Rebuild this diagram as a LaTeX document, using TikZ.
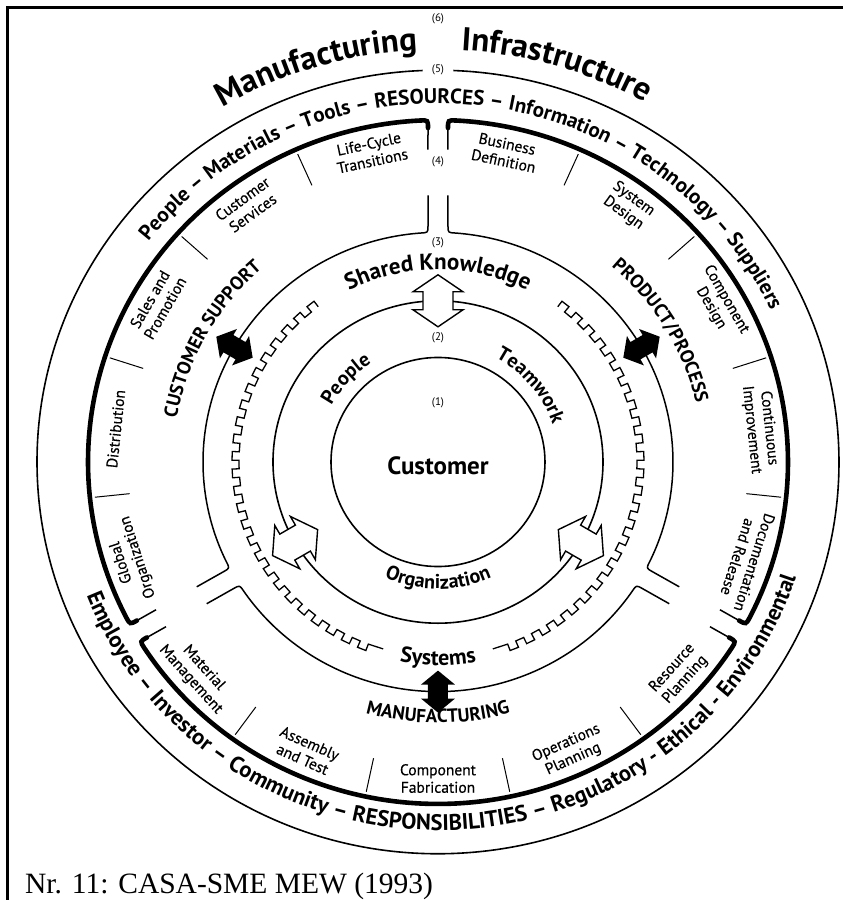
\documentclass[tikz,border=0pt]{standalone}
\usepackage{fontspec}
\setmainfont{PT Sans}
\newfontfamily\captionfont{Liberation Serif}
\newfontfamily\subfont[FakeBold=0.4]{PT Sans}
\usetikzlibrary{decorations.text}

\newcommand\fs[1]{\fontsize{#1}{#1}\selectfont}

\tikzset{
  ringline/.style={line width=1.6pt},
  wall/.style={line width=1.5pt, line join=round},
  rim/.style={line width=4.6pt, line cap=round},
  divider/.style={line width=1pt},
  gearline/.style={line width=1.3pt, line join=miter},
  frameline/.style={line width=3pt},
  tag/.style={font=\fs{11}, inner sep=1pt},
  sublabel/.style={font=\subfont\fontsize{15.5}{17.5}\selectfont, align=center, inner sep=0pt},
  arctext/.style 2 args={decorate, decoration={text along path, text align=center, text={|#1|#2}}},
  pics/hollow arrow/.style={code={
    \draw[line width=1.4pt, fill=white, line join=miter]
      (26,0) -- (9,25) -- (9,15) -- (-9,15) -- (-9,25) -- (-26,0)
      -- (-9,-25) -- (-9,-15) -- (9,-15) -- (9,-25) -- cycle;}},
  pics/solid arrow/.style={code={
    \fill[black] (21,0) -- (7,17) -- (7,10) -- (-7,10) -- (-7,17) -- (-21,0)
      -- (-7,-17) -- (-7,-10) -- (7,-10) -- (7,-17) -- cycle;}},
}

\begin{document}
\begin{tikzpicture}[x=1pt, y=1pt]
\useasboundingbox (-438,-438) rectangle (405,462);

% frame (top and left rules)
\draw[frameline] (-430,-440) -- (-430,454) -- (407,454);

\begin{scope}[yscale=0.977]
  % (1) customer core and (2) ring
  \draw[ringline] (0,0) circle[radius=107];
  \draw[ringline] (0,0) circle[radius=165];
  % (5) outer circle, open at the top for its tag
  \draw[ringline] (92.2:401) arc[start angle=92.2, end angle=447.8, radius=401];

  % the three process sectors, separated by open channels at 90, 210, 330 deg
  \foreach \sA in {90,210,330}{
    \pgfmathsetmacro\sB{\sA+120}
    \draw[wall] ({\sA+1.791}:320) -- ({\sA+1.676}:342)
      .. controls ({\sA+1.637}:350) .. ({\sA+2.947}:350)
      arc[start angle={\sA+2.947}, end angle={\sB-2.947}, radius=350]
      .. controls ({\sB-1.637}:350) .. ({\sB-1.676}:342) -- ({\sB-1.791}:320);
    \draw[rim] ({\sA+1.676}:342)
      .. controls ({\sA+1.637}:350) .. ({\sA+2.947}:350)
      arc[start angle={\sA+2.947}, end angle={\sB-2.947}, radius=350]
      .. controls ({\sB-1.637}:350) .. ({\sB-1.676}:342);
    \draw[wall] ({\sA+2.099}:273) -- ({\sA+2.368}:242)
      .. controls ({\sA+2.439}:235) .. ({\sA+4.146}:235)
      arc[start angle={\sA+4.146}, end angle={\sB-4.146}, radius=235]
      .. controls ({\sB-2.439}:235) .. ({\sB-2.368}:242) -- ({\sB-2.099}:273);
  }

  % sub-section dividers
  \foreach \d in {114,138,162,186,66,42,18,-6,234,258,282,306}
    \draw[divider] (\d:310) -- (\d:345);

  % toothed "systems" bands
  \draw[gearline] (127:199) foreach \a in {127,132,...,247}
    { -- (\a:199) -- (\a:206) -- ({\a+2.5}:206) -- ({\a+2.5}:199) } -- (254:199);
  \draw[gearline] (53:199) foreach \a in {53,48,...,-67}
    { -- (\a:199) -- (\a:206) -- ({\a-2.5}:206) -- ({\a-2.5}:199) } -- (-74:199);

  % two-way arrows
  \foreach \t in {90,210,330}
    \pic[rotate=\t] at (\t:165) {hollow arrow};
  \foreach \t in {30,150,270}
    \pic[rotate=\t] at (\t:235) {solid arrow};

  % ring tags
  \node[tag] (tag1) at (90:61) {(1)};
  \node[tag] (tag2) at (90:127) {(2)};
  \node[tag] (tag3) at (90:224) {(3)};
  \node[tag] (tag4) at (90:307) {(4)};
  \node[tag] (tag5) at (90:401) {(5)};
  \node[tag] (tag6) at (90:454) {(6)};

  % centre
  \node[font=\bfseries\fs{25}, inner sep=0pt] (customer) at (0,-4) {Customer};

  % ring 2
  \path[arctext={\bfseries\fs{20}}{People}] (160:121) arc[start angle=160, end angle=115, radius=121];
  \path[arctext={\bfseries\fs{20}}{Teamwork}] (68:121) arc[start angle=68, end angle=12, radius=121];
  \path[arctext={\bfseries\fs{20}}{Organization}] (225:130) arc[start angle=225, end angle=315, radius=130];

  % ring 3
  \path[arctext={\bfseries\fs{23}}{Shared Knowledge}] (130:197) arc[start angle=130, end angle=50, radius=197];
  \path[arctext={\bfseries\fs{22}}{Systems}] (245:208) arc[start angle=245, end angle=295, radius=208];

  % sector titles
  \path[arctext={\bfseries\fs{19}}{CUSTOMER SUPPORT}] (181:265) arc[start angle=181, end angle=121, radius=265];
  \path[arctext={\bfseries\fs{19}}{PRODUCT/PROCESS}] (61:265) arc[start angle=61, end angle=1, radius=265];
  \path[arctext={\bfseries\fs{19}}{MANUFACTURING}] (235:267) arc[start angle=235, end angle=305, radius=267];

  % sub-sections, upper half (read with tops outward)
  \foreach \ang/\txt in {102/{Life-Cycle\\Transitions},126/{Customer\\Services},
      150/{Sales and\\Promotion},174/{Distribution},198/{Global\\Organization},
      78/{Business\\Definition},54/{System\\Design},30/{Component\\Design},
      6/{Continuous\\Improvement},-18/{Documentation\\and Release}}
    \node[sublabel, rotate=\ang-90] (sub\ang) at (\ang:324) {\txt};
  % sub-sections, manufacturing (read with tops inward)
  \foreach \ang/\txt in {222/{Material\\Management},246/{Assembly\\and Test},
      270/{Component\\Fabrication},294/{Operations\\Planning},318/{Resource\\Planning}}
    \node[sublabel, rotate=\ang+90] (sub\ang) at (\ang:324) {\txt};

  % ring 5
  \path[arctext={\bfseries\fs{21}}{People – Materials – Tools – RESOURCES – Information – Technology – Suppliers}]
    (158.5:367) arc[start angle=158.5, end angle=8.5, radius=367];
  \path[arctext={\bfseries\fs{22.5}}{Employee – Investor – Community – RESPONSIBILITIES – Regulatory - Ethical - Environmental}]
    (186.5:377) arc[start angle=186.5, end angle=356.5, radius=377];

  % ring 6 title
  \path[arctext={\bfseries\fs{33}}{Manufacturing}] (131.8:422) arc[start angle=131.8, end angle=81.8, radius=422];
  \path[arctext={\bfseries\fs{33}}{Infrastructure}] (98.7:422) arc[start angle=98.7, end angle=48.7, radius=422];
\end{scope}

\node[anchor=base west, font=\captionfont\fs{29.5}, inner sep=0pt] (caption) at (-413,-431) {Nr. 11: CASA-SME MEW (1993)};
\end{tikzpicture}
\end{document}
